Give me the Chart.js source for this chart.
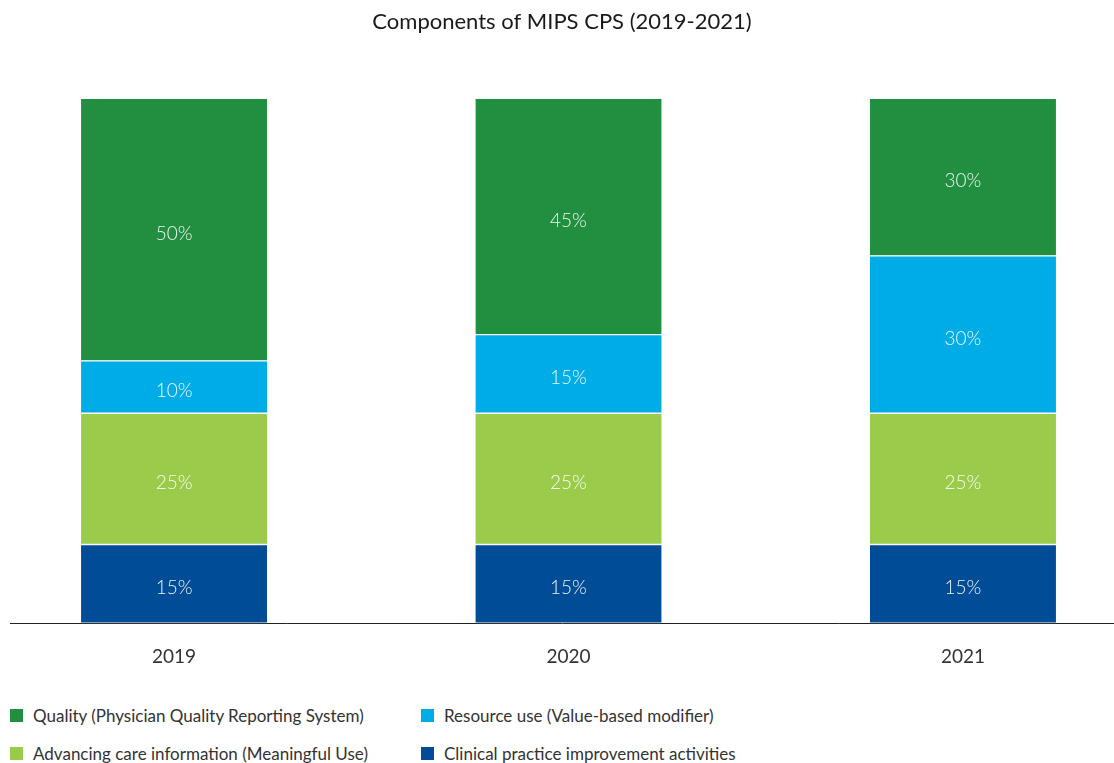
<!DOCTYPE html>
<html>
<head>
<meta charset="utf-8">
<script src="https://cdn.jsdelivr.net/npm/chart.js@4/dist/chart.umd.min.js"></script>
<style>
  html, body { margin: 0; padding: 0; background: #fff; }
  #wrap { position: relative; width: 1114px; height: 763px; overflow: hidden; }
  #chartBox { position: absolute; left: 0; top: 0; width: 1114px; height: 690px; }
  #legend { position: absolute; left: 10px; top: 705px; width: 1100px;
    display: grid; grid-template-columns: 411px 600px; row-gap: 18px;
    font-family: Lato, "Noto Sans", sans-serif; font-size: 17px; color: #333; }
  .item { display: flex; align-items: center; height: 20px; white-space: nowrap; }
  .sw { width: 13px; height: 13px; margin-right: 10px; flex: none; }
</style>
</head>
<body>
<div id="wrap">
  <div id="chartBox"><canvas id="c"></canvas></div>
  <div id="legend"></div>
</div>
<script>
const years = ["2019", "2020", "2021"];
const clinicalPractice = [15, 15, 15];
const advancingCare = [25, 25, 25];
const resourceUse = [10, 15, 30];
const quality = [50, 45, 30];
const seriesLabels = {
  clinical: "Clinical practice improvement activities",
  advancing: "Advancing care information (Meaningful Use)",
  resource: "Resource use (Value-based modifier)",
  quality: "Quality (Physician Quality Reporting System)"
};
const colors = { clinical: "#004C97", advancing: "#9BCB4B", resource: "#00ACE6", quality: "#218F3F" };

function toPoints(arr) { return arr.map((v, i) => ({ x: i, y: v })); }

function ds(key, arr) {
  return {
    label: seriesLabels[key],
    data: toPoints(arr),
    backgroundColor: colors[key],
    borderColor: "#ffffff",
    borderWidth: { top: 1, bottom: 1, left: 0, right: 0 },
    borderSkipped: false,
    barThickness: 186
  };
}

const valueLabels = {
  id: "valueLabels",
  afterDatasetsDraw(chart) {
    const ctx = chart.ctx;
    ctx.save();
    ctx.font = "300 19px Lato, 'Noto Sans', sans-serif";
    ctx.fillStyle = "rgba(255,255,255,0.92)";
    ctx.textAlign = "center";
    ctx.textBaseline = "middle";
    chart.data.datasets.forEach((d, di) => {
      const meta = chart.getDatasetMeta(di);
      meta.data.forEach((el, i) => {
        const p = el.getProps(["x", "y", "base"], true);
        ctx.fillText(d.data[i].y + "%", p.x, (p.y + p.base) / 2 + 4);
      });
    });
    ctx.restore();
  }
};

const chart = new Chart(document.getElementById("c"), {
  type: "bar",
  data: {
    datasets: [
      ds("clinical", clinicalPractice),
      ds("advancing", advancingCare),
      ds("resource", resourceUse),
      ds("quality", quality)
    ]
  },
  options: {
    responsive: true,
    maintainAspectRatio: false,
    animation: false,
    layout: { padding: { left: 10, right: 0, top: 0, bottom: 0 } },
    plugins: {
      legend: { display: false },
      tooltip: { enabled: false },
      title: {
        display: true,
        text: "Components of MIPS CPS (2019-2021)",
        color: "#1a1a1a",
        font: { family: "Lato, 'Noto Sans', sans-serif", size: 22, weight: "normal" },
        padding: { top: 9, bottom: 63 }
      }
    },
    scales: {
      x: {
        type: "linear",
        stacked: true,
        offset: false,
        min: -0.416,
        max: 2.383,
        afterBuildTicks(scale) { scale.ticks = years.map((_, i) => ({ value: i })); },
        ticks: {
          callback: (v) => years[v] ?? "",
          color: "#333",
          font: { family: "Lato, 'Noto Sans', sans-serif", size: 19 },
          padding: 22,
          autoSkip: false,
          maxRotation: 0
        },
        grid: { display: false, drawTicks: false },
        border: { display: true, color: "#222", width: 1 }
      },
      y: {
        stacked: true,
        display: false,
        min: 0,
        max: 100
      }
    }
  },
  plugins: [valueLabels]
});

// HTML legend built from datasets (top of stack first)
const legend = document.getElementById("legend");
chart.data.datasets.slice().reverse().forEach(d => {
  const item = document.createElement("div");
  item.className = "item";
  const sw = document.createElement("span");
  sw.className = "sw";
  sw.style.background = d.backgroundColor;
  const t = document.createElement("span");
  t.textContent = d.label;
  item.appendChild(sw);
  item.appendChild(t);
  legend.appendChild(item);
});
</script>
</body>
</html>
